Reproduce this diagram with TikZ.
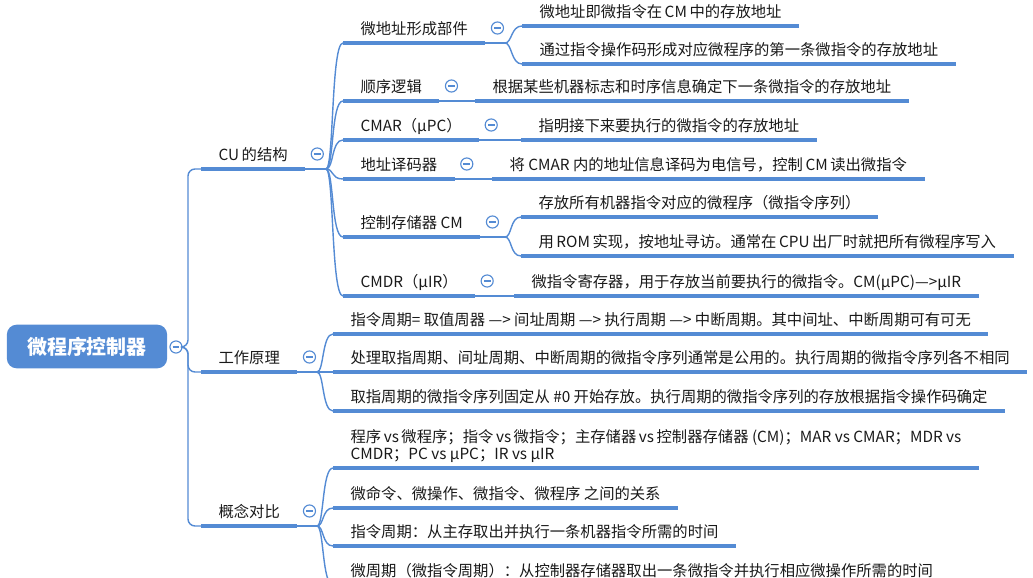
\documentclass[tikz,border=0pt]{standalone}
\usepackage{fontspec}
\setmainfont{Noto Sans CJK SC}
\definecolor{mmblue}{RGB}{84,139,212}
\definecolor{ink}{RGB}{25,25,25}

\begin{document}
\begin{tikzpicture}[x=0.025cm,y=-0.025cm]
\tikzset{
  rootbox/.style={fill=mmblue,text=white,rounded corners=7pt,minimum width=114pt,minimum height=31pt,inner sep=0pt,font=\fontsize{14.2pt}{16pt}\selectfont\bfseries},
  topic/.style={anchor=south west,inner xsep=12.5pt,inner ysep=0pt,outer sep=0pt,text height=8pt,text depth=6.2pt,text=ink,font=\fontsize{10.9pt}{11.8pt}\selectfont},
  btn/.style={circle,draw=mmblue,line width=0.8pt,fill=white,minimum size=8.6pt,inner sep=0pt,
    path picture={\draw[mmblue,line width=0.8pt] ([xshift=-2.4pt]path picture bounding box.center) -- ([xshift=2.4pt]path picture bounding box.center);}},
  uline/.style={draw=mmblue,line width=2.9pt},
  link/.style={draw=mmblue,line width=1pt}
}
\useasboundingbox (0,0) rectangle (1033,578);
\clip (0,0) rectangle (1033,578);
\node[rootbox] (root) at (87,346.5) {微程序控制器};
\node[btn] (b_root) at (176,347) {};
\coordinate (j_root) at (188,347);
\node[topic] (t_cu) at (201,169) {CU\,的结构};
\node[topic] (t_work) at (201,372) {工作原理};
\node[topic] (t_cmp) at (201,526) {概念对比};
\node[topic] (t_addr) at (343,43) {微地址形成部件};
\node[topic] (t_seq) at (343,101) {顺序逻辑};
\node[topic] (t_cmar) at (343,140) {CMAR（μPC）};
\node[topic] (t_dec) at (343,179) {地址译码器};
\node[topic] (t_cm) at (343,237) {控制存储器 CM};
\node[topic] (t_cmdr) at (343,296) {CMDR（μIR）};
\node[topic] (t_addr_1) at (522,26) {微地址即微指令在\,CM\,中的存放地址};
\node[topic] (t_addr_2) at (522,64) {通过指令操作码形成对应微程序的第一条微指令的存放地址};
\node[topic] (t_seq_1) at (475,101) {根据某些机器标志和时序信息确定下一条微指令的存放地址};
\node[topic] (t_cmar_1) at (521,140) {指明接下来要执行的微指令的存放地址};
\node[topic] (t_dec_1) at (492,179) {将 CMAR 内的地址信息译码为电信号，控制\,CM\,读出微指令};
\node[topic] (t_cm_1) at (521,217) {存放所有机器指令对应的微程序（微指令序列）};
\node[topic] (t_cm_2) at (521,256) {用\,ROM\,实现，按地址寻访。通常在\,CPU\,出厂时就把所有微程序写入};
\node[topic] (t_cmdr_1) at (514,296) {微指令寄存器，用于存放当前要执行的微指令。CM(μPC)—>μIR};
\node[topic] (t_work_1) at (333,334) {指令周期= 取值周器 —> 间址周期 —> 执行周期 —> 中断周期。其中间址、中断周期可有可无};
\node[topic] (t_work_2) at (333,372) {处理取指周期、间址周期、中断周期的微指令序列通常是公用的。执行周期的微指令序列各不相同};
\node[topic] (t_work_3) at (333,411) {取指周期的微指令序列固定从 \#0 开始存放。执行周期的微指令序列的存放根据指令操作码确定};
\node[topic] (t_cmp_1) at (333,468) {\vbox{\hbox{程序\,vs\,微程序；指令\,vs\,微指令；主存储器\,vs\,控制器存储器 (CM)；MAR vs CMAR；MDR vs}\hbox{CMDR；PC vs μPC；IR vs μIR}}};
\node[topic] (t_cmp_2) at (333,508) {微命令、微操作、微指令、微程序 之间的关系};
\node[topic] (t_cmp_3) at (333,546) {指令周期：从主存取出并执行一条机器指令所需的时间};
\node[topic] (t_cmp_4) at (333,585) {微周期（微指令周期）：从控制器存储器取出一条微指令并执行相应微操作所需的时间};
\coordinate (j_cu) at (326,169);
\coordinate (j_work) at (317,372);
\coordinate (j_cmp) at (317,526);
\coordinate (j_addr) at (505,43);
\coordinate (j_cm) at (505,237);
\draw[link,rounded corners=5pt] (b_root.east) -- (j_root) |- (t_cu.south west);
\draw[link,rounded corners=5pt] (b_root.east) -- (j_root) |- (t_work.south west);
\draw[link,rounded corners=5pt] (b_root.east) -- (j_root) |- (t_cmp.south west);
\draw[link] (t_cu.south east) -- (j_cu);
\draw[link] (j_cu) .. controls +(8,0) and +(-12,0) .. (t_addr.south west);
\draw[link] (j_cu) .. controls +(8,0) and +(-12,0) .. (t_seq.south west);
\draw[link] (j_cu) .. controls +(8,0) and +(-12,0) .. (t_cmar.south west);
\draw[link] (j_cu) .. controls +(8,0) and +(-12,0) .. (t_dec.south west);
\draw[link] (j_cu) .. controls +(8,0) and +(-12,0) .. (t_cm.south west);
\draw[link] (j_cu) .. controls +(8,0) and +(-12,0) .. (t_cmdr.south west);
\draw[link] (t_work.south east) -- (j_work);
\draw[link] (j_work) .. controls +(7,0) and +(-11,0) .. (t_work_1.south west);
\draw[link] (j_work) -- (t_work_2.south west);
\draw[link] (j_work) .. controls +(7,0) and +(-11,0) .. (t_work_3.south west);
\draw[link] (t_cmp.south east) -- (j_cmp);
\draw[link] (j_cmp) .. controls +(7,0) and +(-11,0) .. (t_cmp_1.south west);
\draw[link] (j_cmp) .. controls +(7,0) and +(-11,0) .. (t_cmp_2.south west);
\draw[link] (j_cmp) .. controls +(7,0) and +(-11,0) .. (t_cmp_3.south west);
\draw[link] (j_cmp) .. controls +(7,0) and +(-11,0) .. (t_cmp_4.south west);
\draw[link] (t_addr.south east) -- (j_addr);
\draw[link] (j_addr) .. controls +(7,0) and +(-11,0) .. (t_addr_1.south west);
\draw[link] (j_addr) .. controls +(7,0) and +(-11,0) .. (t_addr_2.south west);
\draw[link] (t_cm.south east) -- (j_cm);
\draw[link] (j_cm) .. controls +(7,0) and +(-11,0) .. (t_cm_1.south west);
\draw[link] (j_cm) .. controls +(7,0) and +(-11,0) .. (t_cm_2.south west);
\draw[link] (t_seq.south east) -- (t_seq_1.south west);
\draw[link] (t_cmar.south east) -- (t_cmar_1.south west);
\draw[link] (t_dec.south east) -- (t_dec_1.south west);
\draw[link] (t_cmdr.south east) -- (t_cmdr_1.south west);
\draw[uline] (t_cu.south west) -- (t_cu.south east);
\draw[uline] (t_work.south west) -- (t_work.south east);
\draw[uline] (t_cmp.south west) -- (t_cmp.south east);
\draw[uline] (t_addr.south west) -- (t_addr.south east);
\draw[uline] (t_seq.south west) -- (t_seq.south east);
\draw[uline] (t_cmar.south west) -- (t_cmar.south east);
\draw[uline] (t_dec.south west) -- (t_dec.south east);
\draw[uline] (t_cm.south west) -- (t_cm.south east);
\draw[uline] (t_cmdr.south west) -- (t_cmdr.south east);
\draw[uline] (t_addr_1.south west) -- (t_addr_1.south east);
\draw[uline] (t_addr_2.south west) -- (t_addr_2.south east);
\draw[uline] (t_seq_1.south west) -- (t_seq_1.south east);
\draw[uline] (t_cmar_1.south west) -- (t_cmar_1.south east);
\draw[uline] (t_dec_1.south west) -- (t_dec_1.south east);
\draw[uline] (t_cm_1.south west) -- (t_cm_1.south east);
\draw[uline] (t_cm_2.south west) -- (t_cm_2.south east);
\draw[uline] (t_cmdr_1.south west) -- (t_cmdr_1.south east);
\draw[uline] (t_work_1.south west) -- (t_work_1.south east);
\draw[uline] (t_work_2.south west) -- (t_work_2.south east);
\draw[uline] (t_work_3.south west) -- (t_work_3.south east);
\draw[uline] (t_cmp_1.south west) -- (t_cmp_1.south east);
\draw[uline] (t_cmp_2.south west) -- (t_cmp_2.south east);
\draw[uline] (t_cmp_3.south west) -- (t_cmp_3.south east);
\draw[uline] (t_cmp_4.south west) -- (t_cmp_4.south east);
\node[btn] (b_cu) at ([shift={(12,-15)}]t_cu.south east) {};
\node[btn] (b_work) at ([shift={(12,-15)}]t_work.south east) {};
\node[btn] (b_cmp) at ([shift={(12,-15)}]t_cmp.south east) {};
\node[btn] (b_addr) at ([shift={(12,-15)}]t_addr.south east) {};
\node[btn] (b_seq) at ([shift={(12,-15)}]t_seq.south east) {};
\node[btn] (b_cmar) at ([shift={(12,-15)}]t_cmar.south east) {};
\node[btn] (b_dec) at ([shift={(12,-15)}]t_dec.south east) {};
\node[btn] (b_cm) at ([shift={(12,-15)}]t_cm.south east) {};
\node[btn] (b_cmdr) at ([shift={(12,-15)}]t_cmdr.south east) {};
\end{tikzpicture}
\end{document}
